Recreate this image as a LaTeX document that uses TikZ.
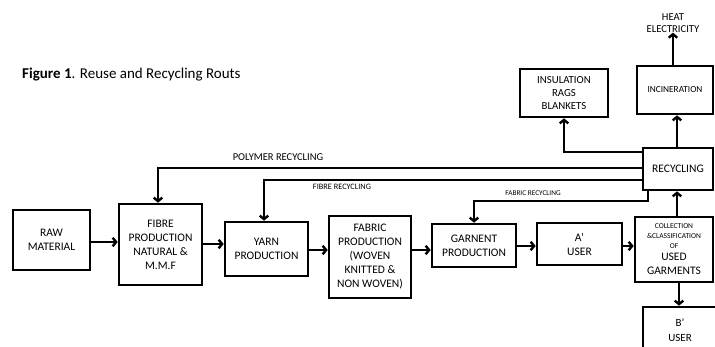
\documentclass[tikz,border=0pt]{standalone}
\usepackage{fontspec}
\setmainfont{Carlito}
\usetikzlibrary{arrows.meta}
\begin{document}
\begin{tikzpicture}[x=1pt,y=-1pt,
  box/.style={draw, line width=2.6pt, align=center, inner sep=1pt, font=\fontsize{11.5}{14}\selectfont},
  arr/.style={line width=2.6pt, -{Straight Barb[length=3.5pt,width=8.5pt,line width=2.4pt]}},
  lbl/.style={inner sep=0pt, align=center}]
\useasboundingbox (0,0) rectangle (715,346);
% title
\node[lbl, anchor=west, font=\fontsize{15}{17}\selectfont] (title) at (22,75) {\textbf{Figure 1}. Reuse and Recycling Routs};
% boxes
\node[box, minimum width=77pt, minimum height=60pt] (raw) at (51.5,240) {RAW\\MATERIAL};
\node[box, minimum width=83pt, minimum height=81pt] (fibre) at (160.5,244.5) {FIBRE\\PRODUCTION\\NATURAL \&\\M.M.F};
\node[box, minimum width=83pt, minimum height=54pt] (yarn) at (266.5,249) {YARN\\PRODUCTION};
\node[box, minimum width=82pt, minimum height=82pt] (fabric) at (370,257) {FABRIC\\PRODUCTION\\(WOVEN\\KNITTED \&\\NON WOVEN)};
\node[box, minimum width=84pt, minimum height=43pt] (garn) at (474,245.5) {GARNENT\\PRODUCTION};
\node[box, minimum width=85pt, minimum height=42pt] (auser) at (579.5,244) {A’\\USER};
\node[box, minimum width=78pt, minimum height=65pt] (coll) at (674,249.5) {\fontsize{7.5}{10}\selectfont COLLECTION\\[-4pt] \fontsize{7.5}{10}\selectfont \&CLASSIFICATION\\[-4pt] \fontsize{7.5}{10}\selectfont OF\\[-2pt] USED\\ GARMENTS};
\node[box, minimum width=74pt, minimum height=46pt, font=\fontsize{11}{15}\selectfont] (buser) at (680,330) {B’\\USER};
\node[box, minimum width=70pt, minimum height=42pt] (recyc) at (678,169) {RECYCLING};
\node[box, minimum width=88pt, minimum height=48pt, font=\fontsize{10.8}{13}\selectfont] (insul) at (564,93) {INSULATION\\RAGS\\BLANKETS};
\node[box, minimum width=76pt, minimum height=48pt, font=\fontsize{9.3}{11}\selectfont] (incin) at (675,90) {INCINERATION};
\node[lbl, font=\fontsize{10.6}{12}\selectfont] (heat) at (673,23) {HEAT\\ELECTRICITY};
% labels
\node[lbl, font=\fontsize{10.5}{12}\selectfont] (lpoly) at (278,157) {POLYMER RECYCLING};
\node[lbl, font=\fontsize{8.3}{10}\selectfont] (lfibre) at (342,187) {FIBRE RECYCLING};
\node[lbl, font=\fontsize{7.3}{9}\selectfont] (lfabric) at (533,193) {FABRIC RECYCLING};
% main flow
\draw[arr] (raw.east |- 0,242) -- (fibre.west |- 0,242);
\draw[arr] (fibre.east |- 0,244) -- (yarn.west |- 0,244);
\draw[arr] (yarn.east |- 0,250) -- (fabric.west |- 0,250);
\draw[arr] (fabric.east |- 0,250) -- (garn.west |- 0,250);
\draw[arr] (garn.east |- 0,246) -- (auser.west |- 0,246);
\draw[arr] (auser.east |- 0,246) -- (coll.west |- 0,246);
\draw[arr] (coll.south -| 679,0) -- (buser.north -| 679,0);
\draw[arr] (coll.north -| 677,0) -- (recyc.south -| 677,0);
\draw[arr] (recyc.north -| 677,0) -- (incin.south -| 677,0);
\draw[arr] (incin.north -| 673,0) -- (heat.south -| 673,0);
% recycling returns
\draw[arr] (recyc.west |- 0,152) -| (insul.south);
\draw[arr] (recyc.west |- 0,168) -| (fibre.north -| 158,0);
\draw[arr] (recyc.west |- 0,180) -| (yarn.north -| 264,0);
\draw[arr] (recyc.south -| 648,0) |- (500,201) -| (garn.north);
\end{tikzpicture}
\end{document}
